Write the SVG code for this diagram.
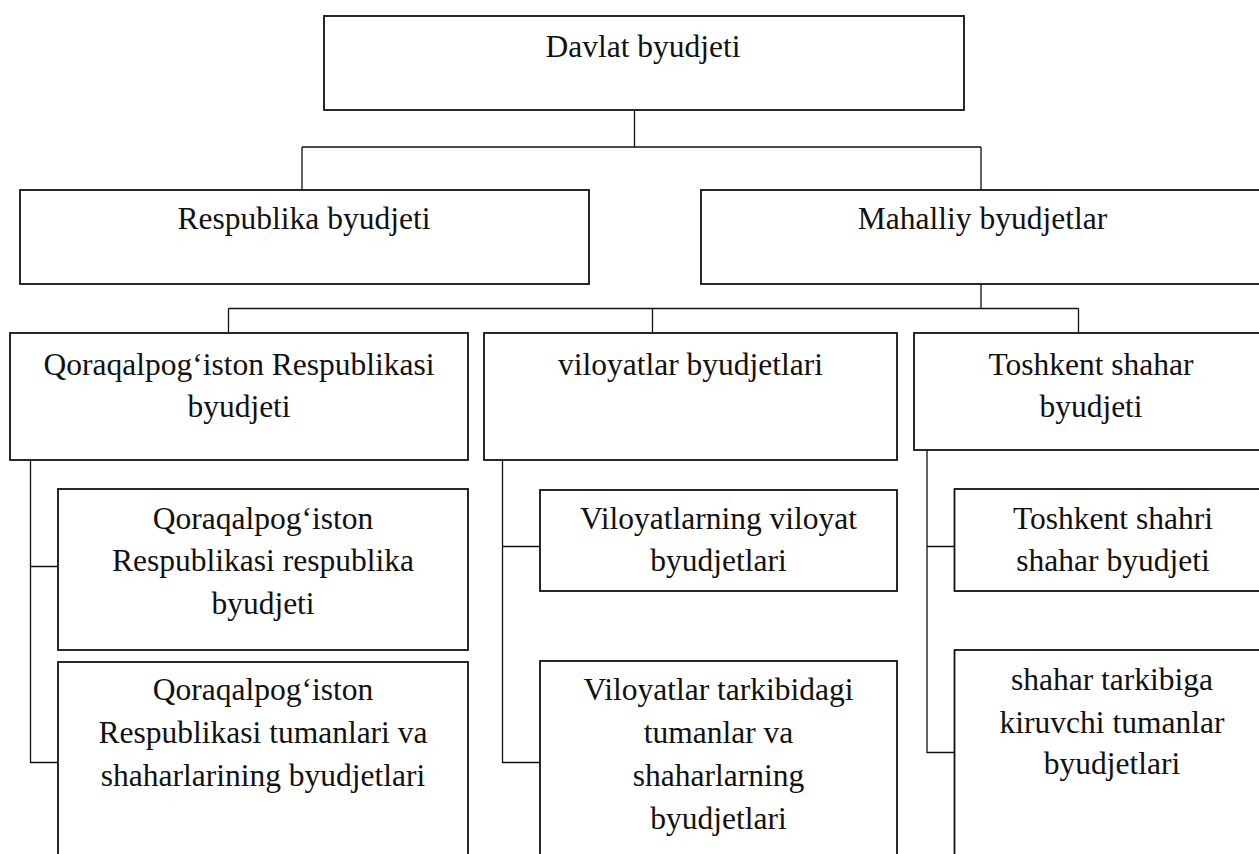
<svg xmlns="http://www.w3.org/2000/svg" width="1259" height="854" viewBox="0 0 1259 854">
  <style>
    .box { fill: #ffffff; stroke: #111111; stroke-width: 1.8; }
    .link { fill: none; stroke: #111111; stroke-width: 1.3; }
    .lbl { font-family: "Liberation Serif", "Times New Roman", serif; font-size: 31.5px; fill: #111111; text-anchor: middle; }
  </style>
  <rect width="1259" height="854" fill="#ffffff"/>

  <!-- connectors -->
  <g id="connectors">
    <path class="link" d="M634.5 110 V147 M302 147 H981 M302 147 V190 M981 147 V190"/>
    <path class="link" d="M981 284 V308.5 M228.5 308.5 H1078.5 M228.5 308.5 V333 M652.5 308.5 V333 M1078.5 308.5 V333"/>
    <path class="link" d="M30.5 460 V762.5 H58 M30.5 566.5 H58"/>
    <path class="link" d="M502.5 460 V762.5 H540 M502.5 546.5 H540"/>
    <path class="link" d="M927 450 V752.5 H954.5 M927 546.5 H954.5"/>
  </g>

  <!-- level 1 -->
  <g id="davlat">
    <rect class="box" x="324" y="16" width="640" height="94"/>
    <text class="lbl" x="643" y="57">Davlat byudjeti</text>
  </g>

  <!-- level 2 -->
  <g id="respublika">
    <rect class="box" x="20" y="190" width="569" height="94"/>
    <text class="lbl" x="304" y="228.5">Respublika byudjeti</text>
  </g>
  <g id="mahalliy">
    <rect class="box" x="701" y="190" width="570" height="94"/>
    <text class="lbl" x="982.5" y="228.5">Mahalliy byudjetlar</text>
  </g>

  <!-- level 3 -->
  <g id="qoraqalpogiston">
    <rect class="box" x="10" y="333" width="458" height="127"/>
    <text class="lbl" x="239" y="375">Qoraqalpog‘iston Respublikasi</text>
    <text class="lbl" x="239" y="417">byudjeti</text>
  </g>
  <g id="viloyatlar">
    <rect class="box" x="484" y="333" width="413" height="127"/>
    <text class="lbl" x="690.5" y="375">viloyatlar byudjetlari</text>
  </g>
  <g id="toshkent">
    <rect class="box" x="914" y="333" width="357" height="117"/>
    <text class="lbl" x="1091" y="375">Toshkent shahar</text>
    <text class="lbl" x="1091" y="417">byudjeti</text>
  </g>

  <!-- level 4: Qoraqalpog'iston -->
  <g id="qq-respublika">
    <rect class="box" x="58" y="489" width="410" height="161"/>
    <text class="lbl" x="263" y="528.5">Qoraqalpog‘iston</text>
    <text class="lbl" x="263" y="570.5">Respublikasi respublika</text>
    <text class="lbl" x="263" y="613.5">byudjeti</text>
  </g>
  <g id="qq-tumanlar">
    <rect class="box" x="58" y="662" width="410" height="210"/>
    <text class="lbl" x="263" y="700">Qoraqalpog‘iston</text>
    <text class="lbl" x="263" y="743">Respublikasi tumanlari va</text>
    <text class="lbl" x="263" y="786">shaharlarining byudjetlari</text>
  </g>

  <!-- level 4: viloyatlar -->
  <g id="vil-viloyat">
    <rect class="box" x="540" y="490" width="357" height="101"/>
    <text class="lbl" x="718.5" y="528.5">Viloyatlarning viloyat</text>
    <text class="lbl" x="718.5" y="570.5">byudjetlari</text>
  </g>
  <g id="vil-tumanlar">
    <rect class="box" x="540" y="661" width="357" height="211"/>
    <text class="lbl" x="718.5" y="700">Viloyatlar tarkibidagi</text>
    <text class="lbl" x="718.5" y="743">tumanlar va</text>
    <text class="lbl" x="718.5" y="786">shaharlarning</text>
    <text class="lbl" x="718.5" y="828.5">byudjetlari</text>
  </g>

  <!-- level 4: Toshkent -->
  <g id="tosh-shahar">
    <rect class="box" x="954.5" y="489" width="316" height="102"/>
    <text class="lbl" x="1113" y="528.5">Toshkent shahri</text>
    <text class="lbl" x="1113" y="570.5">shahar byudjeti</text>
  </g>
  <g id="tosh-tumanlar">
    <rect class="box" x="954.5" y="650" width="316" height="222"/>
    <text class="lbl" x="1112" y="690">shahar tarkibiga</text>
    <text class="lbl" x="1112" y="733">kiruvchi tumanlar</text>
    <text class="lbl" x="1112" y="774">byudjetlari</text>
  </g>
</svg>
